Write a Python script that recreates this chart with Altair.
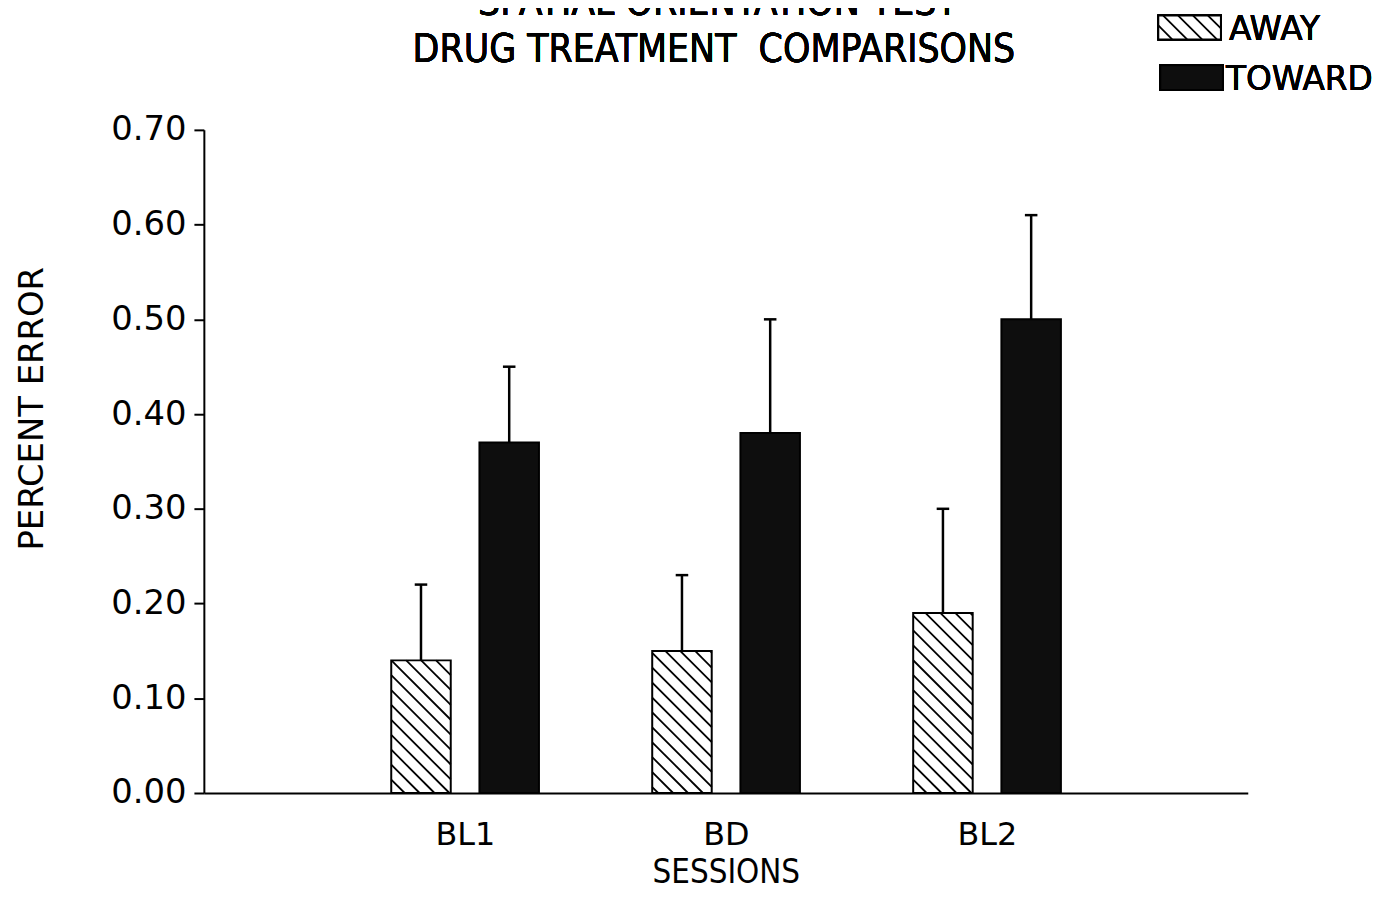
import altair as alt
import pandas as pd

# ---- data ----
sessions = ["BL1", "BD", "BL2"]
groups = ["AWAY", "TOWARD"]
away_mean = [0.14, 0.15, 0.19]
away_upper = [0.22, 0.23, 0.30]
toward_mean = [0.37, 0.38, 0.50]
toward_upper = [0.45, 0.50, 0.61]
y_ticks = [0.0, 0.1, 0.2, 0.3, 0.4, 0.5, 0.6, 0.7]

# ---- layout constants ----
W, H = 1050, 667
Y_MAX = 0.70
X_MAX = 4
SX = W / X_MAX
SY = H / Y_MAX
OFFSET = {"AWAY": -0.168, "TOWARD": 0.170}
HALF = 0.114
CAP = 0.024
STEP = 15.0
FONT = "DejaVu Sans"
CFONT = "DejaVu Sans Condensed, Liberation Sans Narrow, DejaVu Sans"

rows = []
for i, s in enumerate(sessions):
    for g, m, u in (("AWAY", away_mean[i], away_upper[i]),
                    ("TOWARD", toward_mean[i], toward_upper[i])):
        c = i + 1 + OFFSET[g]
        rows.append(dict(session=s, group=g, mean=m, upper=u, xc=c,
                         xl=c - HALF, xr=c + HALF, cl=c - CAP, cr=c + CAP))
df = pd.DataFrame(rows)


def hatch(x0, x1, y0, y1):
    """diagonal '\\' lines inside a pixel box (y down)"""
    segs = []
    kmin, kmax = y0 - x1, y1 - x0
    k = kmin - (kmin % STEP) + STEP
    while k < kmax:
        xa, xb = max(x0, y0 - k), min(x1, y1 - k)
        if xb > xa:
            segs.append((xa, xa + k, xb, xb + k))
        k += STEP
    return segs


hrows = []
for r in rows:
    if r["group"] != "AWAY":
        continue
    box = (r["xl"] * SX, r["xr"] * SX, H - r["mean"] * SY, H)
    for xa, ya, xb, yb in hatch(*box):
        hrows.append(dict(hx=xa / SX, hy=(H - ya) / SY, hx2=xb / SX, hy2=(H - yb) / SY))
# legend swatch (pixel box relative to plot origin)
for xa, ya, xb, yb in hatch(960, 1023, -115, -91):
    hrows.append(dict(hx=xa / SX, hy=(H - ya) / SY, hx2=xb / SX, hy2=(H - yb) / SY))
hdf = pd.DataFrame(hrows)

xscale = alt.Scale(domain=[0, X_MAX], nice=False, zero=False)
yscale = alt.Scale(domain=[0, Y_MAX], nice=False, zero=False)

label_expr = "[" + ",".join("'%s'" % s for s in sessions) + "][round(datum.value) - 1]"

xaxis = alt.Axis(values=[1, 2, 3], labelExpr=label_expr, ticks=False,
                 grid=False, domainColor="black", domainWidth=2,
                 labelFont=FONT, labelFontSize=32, labelColor="black",
                 labelPadding=27, title="SESSIONS", titleFont=CFONT,
                 titleFontSize=33, titleFontWeight="normal",
                 titleColor="black", titlePadding=6)
yaxis = alt.Axis(values=y_ticks, format=".2f", grid=False,
                 domainColor="black", domainWidth=2, tickColor="black",
                 tickWidth=2, tickSize=10, labelFont=FONT,
                 labelFontSize=34, labelColor="black", labelPadding=8,
                 title="PERCENT ERROR", titleFont=FONT, titleFontSize=34,
                 titleFontWeight="normal", titleColor="black",
                 titleAngle=-90, titleX=-172, titleY=280,
                 titleAlign="center", titleBaseline="middle")

# ---- legend (drawn first so the swatch hatch lies on top) ----
leg_away_box = alt.Chart(df).mark_rect(fill="white", stroke="black", strokeWidth=2).encode(
    x=alt.value(960), x2=alt.value(1023), y=alt.value(-115), y2=alt.value(-91))
leg_toward_box = alt.Chart(df).mark_rect(fill="#0e0e0e", stroke="black", strokeWidth=2).encode(
    x=alt.value(962), x2=alt.value(1025), y=alt.value(-65), y2=alt.value(-40))
leg_away_txt = alt.Chart(df).mark_text(font=FONT, fontSize=33, align="left",
                                       baseline="alphabetic", color="black").encode(
    x=alt.value(1031), y=alt.value(-90), text=alt.value(groups[0]))
leg_toward_txt = alt.Chart(df).mark_text(font=FONT, fontSize=33, align="left",
                                         baseline="alphabetic", color="black").encode(
    x=alt.value(1028), y=alt.value(-40), text=alt.value(groups[1]))

bars = alt.Chart(df).mark_rect(stroke="black", strokeWidth=2).encode(
    x=alt.X("xl:Q", scale=xscale, axis=xaxis),
    x2="xr:Q",
    y=alt.Y("mean:Q", scale=yscale, axis=yaxis),
    y2=alt.datum(0),
    fill=alt.Fill("group:N", scale=alt.Scale(domain=groups, range=["white", "#0e0e0e"]),
                  legend=None),
)

hatch_lines = alt.Chart(hdf).mark_rule(color="black", strokeWidth=1.8, clip=False).encode(
    x=alt.X("hx:Q", scale=xscale, axis=xaxis),
    y=alt.Y("hy:Q", scale=yscale, axis=yaxis),
    x2="hx2:Q",
    y2="hy2:Q",
)

err = alt.Chart(df).mark_rule(color="black", strokeWidth=2.5).encode(
    x=alt.X("xc:Q", scale=xscale, axis=xaxis),
    y=alt.Y("mean:Q", scale=yscale, axis=yaxis),
    y2="upper:Q",
)

caps = alt.Chart(df).mark_rule(color="black", strokeWidth=2.5).encode(
    x=alt.X("cl:Q", scale=xscale, axis=xaxis),
    x2="cr:Q",
    y=alt.Y("upper:Q", scale=yscale, axis=yaxis),
)

# ---- title (partly cut off at top as in the reference) ----
t1 = alt.Chart(df).mark_text(font=CFONT, fontSize=39, align="center",
                             baseline="alphabetic", color="black").encode(
    x=alt.value(517), y=alt.value(-116), text=alt.value("SPATIAL ORIENTATION TEST"))
t2 = alt.Chart(df).mark_text(font=CFONT, fontSize=39, align="center",
                             baseline="alphabetic", color="black").encode(
    x=alt.value(513), y=alt.value(-68),
    text=alt.value("DRUG TREATMENT\u00a0\u00a0COMPARISONS"))

chart = alt.layer(
    leg_away_box, leg_toward_box, leg_away_txt, leg_toward_txt,
    bars, hatch_lines, err, caps, t1, t2,
).properties(
    width=W, height=H,
    autosize=alt.AutoSizeParams(type="none"),
    padding={"left": 197, "top": 120, "right": 132, "bottom": 98},
).configure(background="white").configure_view(stroke=None)

chart.save("out.html", embed_options={"renderer": "svg", "actions": False})
